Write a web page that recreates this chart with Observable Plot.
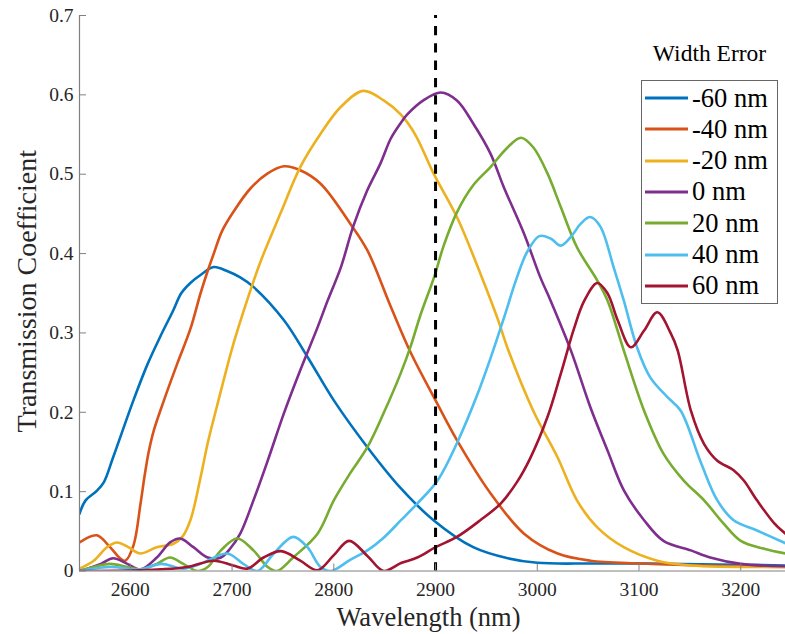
<!DOCTYPE html>
<html><head><meta charset="utf-8">
<script src="https://cdn.jsdelivr.net/npm/d3@7"></script>
<script src="https://cdn.jsdelivr.net/npm/@observablehq/plot@0.6"></script>
<style>
body{margin:0;background:#fff;}
#wrap{position:relative;width:785px;height:634px;overflow:hidden;}
#wrap svg{display:block;}
#ltitle{position:absolute;left:641px;width:137px;top:38px;text-align:center;font-size:23.5px;color:#000;line-height:30px;}
#legend{position:absolute;left:641px;top:80px;width:135px;height:222px;border:1px solid #666;background:#fff;}
.row{position:absolute;left:3px;height:30px;display:flex;align-items:center;font-size:26.5px;color:#000;white-space:nowrap;}
.row svg{margin-right:4px;}
</style></head>
<body>
<div id="wrap"></div>
<script>
// ---- data ----
const seriesNames = ["-60 nm","-40 nm","-20 nm","0 nm","20 nm","40 nm","60 nm"];
const seriesColors = ["#0072BD","#D95319","#EDB120","#7E2F8E","#77AC30","#4DBEEE","#A2142F"];
const xTicks = [2600,2700,2800,2900,3000,3100,3200];
const yTicks = [0,0.1,0.2,0.3,0.4,0.5,0.6,0.7];
const markerWavelength = [2900];

const wlM60 = [2550,2556,2567,2574,2583,2603,2617,2630,2642,2650,2659,2670,2682,2695,2708,2721,2751,2774,2800,2833,2866,2898,2937,2971,3000,3052,3102,3160,3244];
const tcM60 = [.072,.089,.101,.112,.143,.215,.261,.297,.328,.350,.363,.374,.383,.378,.370,.358,.316,.270,.215,.156,.104,.064,.030,.016,.0103,.0094,.0094,.0085,.007];

const wlM40 = [2550,2567,2580,2590,2595,2603,2610,2614,2618,2623,2633,2646,2659,2669,2676,2682,2690,2701,2718,2735,2751,2767,2787,2816,2833,2856,2876,2900,2921,2954,2987,3020,3052,3102,3160,3244];
const tcM40 = [.036,.045,.030,.016,.013,.032,.085,.120,.150,.177,.215,.261,.305,.350,.378,.400,.428,.452,.482,.501,.510,.505,.488,.438,.404,.333,.274,.215,.165,.098,.047,.022,.013,.0095,.007,.005];

const wlM20 = [2550,2564,2577,2587,2598,2610,2626,2642,2651,2659,2669,2676,2685,2701,2715,2728,2748,2767,2787,2807,2829,2849,2866,2880,2898,2921,2944,2961,2971,2996,3020,3039,3059,3085,3118,3151,3244];
const tcM20 = [.003,.013,.030,.036,.030,.022,.030,.034,.043,.064,.118,.161,.207,.285,.342,.390,.452,.509,.551,.585,.605,.593,.575,.550,.501,.446,.375,.318,.280,.202,.143,.089,.055,.030,.013,.007,.005];

const wlP0 = [2550,2571,2583,2597,2610,2626,2639,2649,2662,2676,2689,2698,2708,2721,2735,2751,2767,2784,2794,2807,2819,2833,2846,2856,2866,2872,2888,2905,2921,2937,2954,2967,2987,3003,3013,3033,3052,3069,3085,3105,3124,3151,3170,3200,3244];
const tcP0 = [0,.009,.016,.009,.002,.017,.036,.041,.030,.017,.017,.028,.047,.089,.139,.199,.253,.307,.341,.383,.434,.480,.514,.545,.565,.575,.593,.603,.593,.564,.526,.484,.425,.370,.341,.278,.207,.152,.102,.064,.038,.026,.017,.009,.006];

const wlP20 = [2550,2564,2580,2597,2610,2626,2639,2652,2666,2676,2689,2705,2721,2735,2744,2760,2784,2800,2816,2833,2849,2866,2876,2885,2899,2908,2921,2937,2954,2971,2984,2996,3010,3023,3039,3059,3069,3085,3105,3124,3144,3164,3183,3200,3223,3244];
const tcP20 = [0,.005,.009,.005,.002,.009,.017,.009,0,.005,.026,.041,.026,.005,0,.017,.047,.089,.123,.156,.199,.250,.285,.322,.372,.410,.452,.486,.509,.534,.546,.534,.501,.459,.408,.366,.341,.278,.202,.148,.114,.089,.060,.038,.028,.022];

const wlP40 = [2550,2580,2610,2630,2652,2669,2695,2711,2725,2741,2760,2774,2787,2797,2816,2833,2849,2866,2882,2902,2921,2941,2954,2967,2980,2990,3002,3013,3023,3033,3043,3052,3062,3075,3085,3098,3111,3128,3141,3161,3177,3193,3216,3244];
const tcP40 = [0,.005,.002,.009,.003,.009,.022,.009,0,.022,.043,.030,.005,0,.014,.026,.042,.064,.085,.114,.161,.222,.268,.318,.370,.402,.422,.419,.410,.421,.438,.446,.434,.383,.341,.282,.244,.219,.202,.136,.089,.064,.051,.035];

const wlP60 = [2550,2610,2630,2656,2682,2701,2715,2731,2748,2767,2784,2800,2815,2833,2849,2866,2882,2900,2921,2944,2964,2980,2993,3010,3023,3036,3046,3059,3069,3079,3092,3105,3118,3131,3138,3151,3164,3177,3193,3203,3216,3233,3244];
const tcP60 = [0,.001,.002,.005,.013,.007,.003,.017,.025,.013,.001,.020,.038,.019,0,.010,.017,.030,.043,.064,.085,.112,.142,.194,.248,.305,.340,.363,.350,.316,.282,.303,.326,.300,.278,.202,.160,.139,.127,.114,.089,.060,.047];

const wls = [wlM60,wlM40,wlM20,wlP0,wlP20,wlP40,wlP60];
const tcs = [tcM60,tcM40,tcM20,tcP0,tcP20,tcP40,tcP60];

// ---- build table ----
const rows = [];
seriesNames.forEach((name,i)=>{
  wls[i].forEach((w,j)=>rows.push({series:name, wavelength:w, tc:tcs[i][j]}));
});

const FONT = "'Liberation Serif', 'Times New Roman', Times, serif";
const axisGray = "#808080";
const textGray = "#262626";

const chart = Plot.plot({
  width: 785, height: 634,
  marginLeft: 79, marginRight: 0, marginTop: 15, marginBottom: 63.5,
  style: {fontFamily: FONT, background: "#fff", overflow: "visible"},
  x: {domain: [2550, 3244]},
  y: {domain: [0, 0.7]},
  color: {domain: seriesNames, range: seriesColors},
  marks: [
    Plot.line(rows, {x: "wavelength", y: "tc", z: "series", stroke: "series", strokeWidth: 2.6, curve: "catmull-rom", clip: true}),
    Plot.ruleX(markerWavelength, {x: d=>d, y1: 0, y2: 0.7, stroke: "#000", strokeWidth: 3, strokeDasharray: "9.3,8", strokeDashoffset: 1.1}),
    Plot.ruleY([0], {stroke: axisGray, strokeWidth: 1.2}),
    Plot.ruleX([2550], {stroke: axisGray, strokeWidth: 1.2}),
    Plot.axisX(xTicks, {tickSize: 7, dy: -7, stroke: axisGray, fill: "none", tickFormat: d=>d, label: null}),
    Plot.axisX(xTicks, {tickSize: 0, tickPadding: 11, fontSize: 19.5, fill: textGray, fontFamily: FONT, tickFormat: d=>String(d), label: null}),
    Plot.axisY(yTicks, {tickSize: 7, dx: 7, stroke: axisGray, fill: "none", tickFormat: d=>d, label: null}),
    Plot.axisY(yTicks, {tickSize: 0, tickPadding: 6, fontSize: 19.5, fill: textGray, fontFamily: FONT, tickFormat: d=>d===0?"0":d.toFixed(1), label: null}),
    Plot.text(["Wavelength (nm)"], {frameAnchor: "bottom", lineAnchor: "middle", textAnchor: "middle", text: d=>d, dy: 47, dx: -4, fontSize: 26.5, fill: textGray, fontFamily: FONT}),
    Plot.text(["Transmission Coefficient"], {frameAnchor: "left", lineAnchor: "middle", textAnchor: "middle", text: d=>d, rotate: -90, dx: -52, dy: -2, fontSize: 28, fill: textGray, fontFamily: FONT})
  ]
});

const wrap = document.getElementById("wrap");
wrap.style.fontFamily = FONT;
wrap.appendChild(chart);

// legend (HTML overlay)
const title = document.createElement("div");
title.id = "ltitle"; title.textContent = "Width Error";
title.style.fontFamily = FONT;
wrap.appendChild(title);
const legend = document.createElement("div");
legend.id = "legend";
seriesNames.forEach((name,i)=>{
  const r = document.createElement("div");
  r.className = "row";
  r.style.top = (2 + 31.3*i) + "px";
  r.style.fontFamily = FONT;
  r.innerHTML = `<svg width="43" height="6"><line x1="0" x2="43" y1="3" y2="3" stroke="${seriesColors[i]}" stroke-width="3"/></svg><span>${name}</span>`;
  legend.appendChild(r);
});
wrap.appendChild(legend);
</script>
</body></html>
